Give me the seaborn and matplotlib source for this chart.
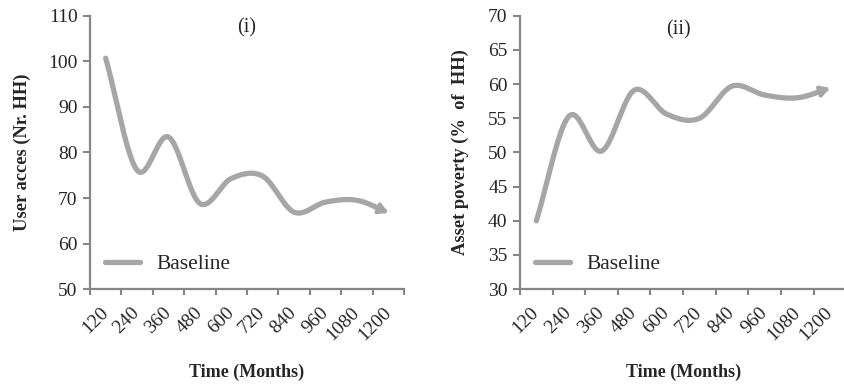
import numpy as np
import pandas as pd
import seaborn as sns
import matplotlib.pyplot as plt

months = ["120", "240", "360", "480", "600", "720", "840", "960", "1080", "1200"]
user_access = [100.7, 76.1, 83.4, 68.8, 74.3, 74.8, 66.9, 69.1, 69.5, 66.8]
asset_poverty = [40.0, 55.3, 50.2, 59.1, 55.6, 55.0, 59.7, 58.4, 58.0, 59.4]

LINE = "#a6a6a6"
AXC = "#868686"


def smooth(y, n=24):
    # Catmull-Rom spline through the points (Excel "smoothed line" look)
    y = np.asarray(y, float)
    x = np.arange(len(y), dtype=float)
    p = np.concatenate([[2 * y[0] - y[1]], y, [2 * y[-1] - y[-2]]])
    xs, ys = [], []
    for i in range(len(y) - 1):
        t = np.linspace(0, 1, n, endpoint=False)
        p0, p1, p2, p3 = p[i], p[i + 1], p[i + 2], p[i + 3]
        yy = 0.5 * (2 * p1 + (-p0 + p2) * t + (2 * p0 - 5 * p1 + 4 * p2 - p3) * t ** 2
                    + (-p0 + 3 * p1 - 3 * p2 + p3) * t ** 3)
        xs.append(x[i] + t)
        ys.append(yy)
    xs.append([x[-1]])
    ys.append([y[-1]])
    return np.concatenate(xs), np.concatenate(ys)


def panel(ax, values, ylim, step, ylabel, tag, tag_xy, ylab_x):
    xs, ys = smooth(values)
    df = pd.DataFrame({"x": xs[:-3], "y": ys[:-3]})
    sns.lineplot(data=df, x="x", y="y", ax=ax, color=LINE, lw=3.8, sort=False,
                 estimator=None, label="Baseline")
    ax.annotate("", xy=(xs[-1], ys[-1]), xytext=(xs[-5], ys[-5]),
                arrowprops=dict(arrowstyle="-|>,head_length=0.5,head_width=0.3",
                                color=LINE, lw=3.0, shrinkA=0, shrinkB=0))
    ax.set_xlim(-0.5, len(months) - 0.5)
    ax.set_ylim(*ylim)
    ax.set_yticks(np.arange(ylim[0], ylim[1] + 0.1, step))
    ax.set_xticks(range(len(months)))
    ax.set_xticklabels(months, rotation=45, ha="right", va="center", rotation_mode="anchor")
    ax.set_xticks(np.arange(-0.5, len(months)), minor=True)
    ax.tick_params(axis="x", which="major", length=0, pad=15, labelsize=14)
    ax.tick_params(axis="x", which="minor", length=4.5, width=1.5, color=AXC, direction="out")
    ax.tick_params(axis="y", length=5, width=1.5, color=AXC, pad=4, labelsize=14)
    for s in ["top", "right"]:
        ax.spines[s].set_visible(False)
    for s in ["left", "bottom"]:
        ax.spines[s].set_color(AXC)
        ax.spines[s].set_linewidth(1.6)
    ax.set_xlabel("Time (Months)", fontsize=13, fontweight="bold")
    ax.xaxis.set_label_coords(0.5, -0.305)
    ax.xaxis.label.set_va("center")
    ax.set_ylabel(ylabel, fontsize=13.3, fontweight="bold")
    ax.yaxis.set_label_coords(ylab_x, 0.5)
    ax.yaxis.label.set_va("center")
    ax.text(tag_xy[0], tag_xy[1], tag, transform=ax.transAxes, ha="center", va="center", fontsize=14.5)
    ax.legend(loc="lower left", bbox_to_anchor=(0.0, 0.0), frameon=False, fontsize=15.5,
              handlelength=1.6, handletextpad=0.8, borderaxespad=0.3)


sns.set_style("ticks")
plt.rcParams["font.family"] = ["Liberation Serif", "DejaVu Serif"]

fig = plt.figure(figsize=(8.45, 3.85), dpi=100)
ax1 = fig.add_axes([0.1065, 0.249, 0.3716, 0.710])
ax2 = fig.add_axes([0.6154, 0.249, 0.386, 0.710])

panel(ax1, user_access, (50, 110), 10, "User acces (Nr. HH)", "(i)", (0.5, 0.955), -0.217)
panel(ax2, asset_poverty, (30, 70), 5, "Asset poverty (%  of  HH)", "(ii)", (0.485, 0.948), -0.184)

fig.savefig("out.png", dpi=100)
